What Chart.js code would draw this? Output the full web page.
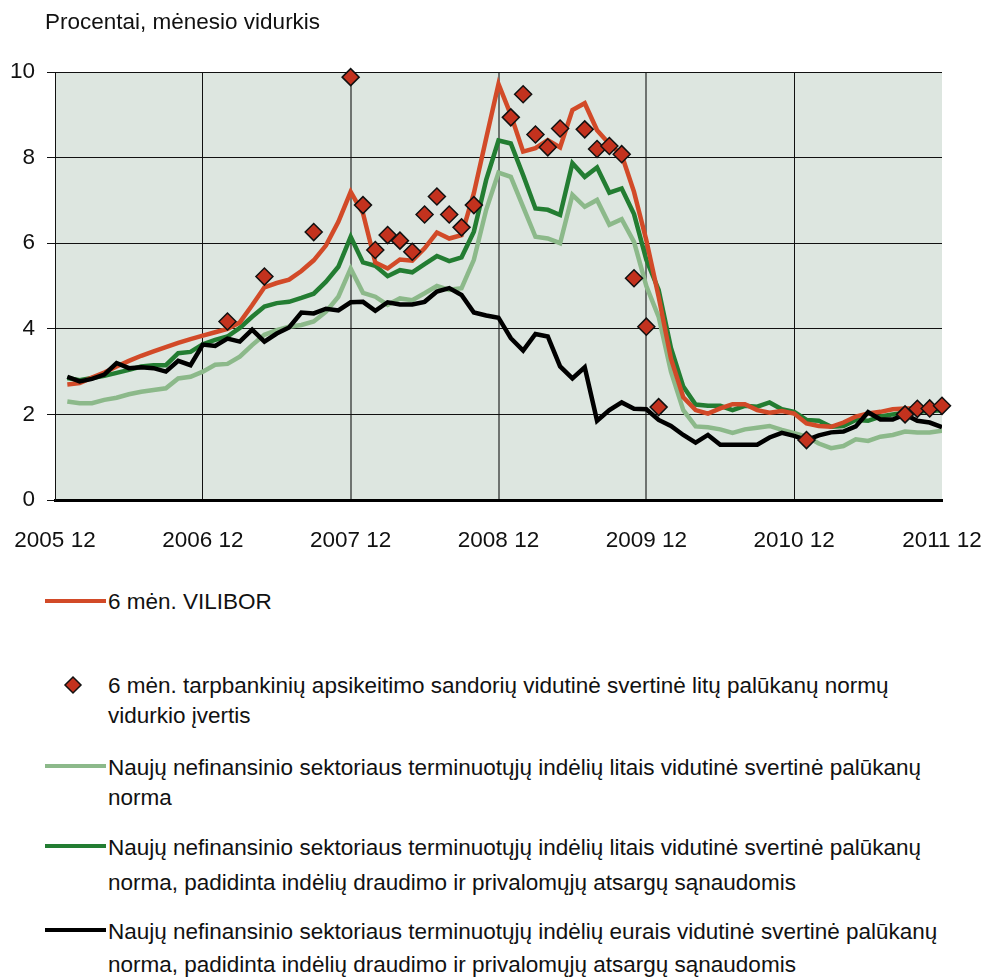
<!DOCTYPE html>
<html><head><meta charset="utf-8">
<script src="https://cdn.jsdelivr.net/npm/chart.js@4/dist/chart.umd.min.js"></script>
<style>
body{margin:0;background:#fff;font-family:"Liberation Sans",Arial,sans-serif;color:#111;}
#wrap{position:relative;width:982px;height:978px;overflow:hidden;}
#c{position:absolute;left:0;top:0;}
.t{position:absolute;font-size:22.5px;line-height:26px;white-space:nowrap;}
.ln{position:absolute;left:45px;width:61px;height:4px;}
</style></head>
<body>
<div id="wrap">
<canvas id="c" width="982" height="575" style="width:982px;height:575px"></canvas>
<div class="t" style="left:45px;top:9px">Procentai, mėnesio vidurkis</div>

<div class="ln" style="top:599px;background:#D24A28"></div>
<div class="t" style="left:108px;top:589px">6 mėn. VILIBOR</div>

<svg style="position:absolute;left:63px;top:675px" width="20" height="20"><polygon points="10,2 18,10 10,18 2,10" fill="#C3321E" stroke="#111" stroke-width="1.5"/></svg>
<div class="t" style="left:108px;top:673px">6 mėn. tarpbankinių apsikeitimo sandorių vidutinė svertinė litų palūkanų normų</div>
<div class="t" style="left:108px;top:703px">vidurkio įvertis</div>

<div class="ln" style="top:764px;background:#8CB98A"></div>
<div class="t" style="left:108px;top:755px">Naujų nefinansinio sektoriaus terminuotųjų indėlių litais vidutinė svertinė palūkanų</div>
<div class="t" style="left:108px;top:785px">norma</div>

<div class="ln" style="top:844px;background:#237D32"></div>
<div class="t" style="left:108px;top:835px">Naujų nefinansinio sektoriaus terminuotųjų indėlių litais vidutinė svertinė palūkanų</div>
<div class="t" style="left:108px;top:870px">norma, padidinta indėlių draudimo ir privalomųjų atsargų sąnaudomis</div>

<div class="ln" style="top:928px;background:#000"></div>
<div class="t" style="left:108px;top:919px">Naujų nefinansinio sektoriaus terminuotųjų indėlių eurais vidutinė svertinė palūkanų</div>
<div class="t" style="left:108px;top:952px">norma, padidinta indėlių draudimo ir privalomųjų atsargų sąnaudomis</div>
</div>
<script>
const categories = [
 '2005 12',
 '2006 01','2006 02','2006 03','2006 04','2006 05','2006 06','2006 07','2006 08','2006 09','2006 10','2006 11','2006 12',
 '2007 01','2007 02','2007 03','2007 04','2007 05','2007 06','2007 07','2007 08','2007 09','2007 10','2007 11','2007 12',
 '2008 01','2008 02','2008 03','2008 04','2008 05','2008 06','2008 07','2008 08','2008 09','2008 10','2008 11','2008 12',
 '2009 01','2009 02','2009 03','2009 04','2009 05','2009 06','2009 07','2009 08','2009 09','2009 10','2009 11','2009 12',
 '2010 01','2010 02','2010 03','2010 04','2010 05','2010 06','2010 07','2010 08','2010 09','2010 10','2010 11','2010 12',
 '2011 01','2011 02','2011 03','2011 04','2011 05','2011 06','2011 07','2011 08','2011 09','2011 10','2011 11','2011 12',
 '2012 01'
];
const tickLabels = ['2005 12','2006 12','2007 12','2008 12','2009 12','2010 12','2011 12'];

const vilibor = [null,
 2.70,2.73,2.86,2.98,3.12,3.25,3.37,3.47,3.57,3.67,3.76,3.84,
 3.92,4.00,4.15,4.55,4.97,5.07,5.15,5.35,5.60,5.95,6.50,7.20,
 6.70,5.55,5.41,5.62,5.59,5.88,6.25,6.11,6.19,7.17,8.45,9.72,
 9.00,8.14,8.22,8.41,8.24,9.11,9.27,8.64,8.32,8.06,7.20,6.07,
 4.75,3.30,2.40,2.10,2.02,2.14,2.24,2.24,2.10,2.04,2.08,2.02,
 1.79,1.73,1.71,1.81,1.95,2.02,2.06,2.12,2.14,2.14,2.16,2.14,
 1.94];

const swapEstimate = [null,
 null,null,null,null,null,null,null,null,null,null,null,null,
 null,4.17,null,null,5.22,null,null,null,6.26,null,null,9.88,
 6.89,5.84,6.19,6.06,5.80,6.67,7.09,6.67,6.37,6.89,null,null,
 8.94,9.48,8.54,8.24,8.68,null,8.66,8.20,8.27,8.08,5.18,4.05,
 2.17,null,null,null,null,null,null,null,null,null,null,null,
 1.40,null,null,null,null,null,null,null,2.00,2.13,2.14,2.20,
 null];

const depositsLtl = [null,
 2.30,2.26,2.26,2.34,2.39,2.47,2.53,2.57,2.61,2.84,2.88,3.00,
 3.16,3.18,3.35,3.62,3.86,3.97,4.05,4.09,4.17,4.40,4.75,5.41,
 4.84,4.75,4.56,4.71,4.67,4.83,5.00,4.91,4.95,5.61,6.78,7.65,
 7.55,6.85,6.15,6.11,6.00,7.13,6.85,7.01,6.43,6.56,6.03,5.00,
 4.28,3.00,2.10,1.72,1.70,1.65,1.57,1.65,1.69,1.73,1.64,1.56,
 1.48,1.32,1.21,1.26,1.42,1.38,1.48,1.52,1.60,1.58,1.58,1.62,
 null];

const depositsLtlAdj = [null,
 2.85,2.80,2.85,2.90,2.97,3.04,3.12,3.15,3.15,3.43,3.46,3.64,
 3.74,3.82,4.02,4.28,4.52,4.60,4.63,4.72,4.82,5.10,5.45,6.15,
 5.55,5.47,5.23,5.37,5.32,5.51,5.70,5.58,5.67,6.27,7.48,8.40,
 8.33,7.59,6.81,6.78,6.66,7.87,7.55,7.77,7.18,7.28,6.68,5.61,
 4.91,3.55,2.65,2.23,2.20,2.20,2.10,2.20,2.18,2.28,2.12,2.06,
 1.87,1.85,1.71,1.73,1.87,1.85,1.95,2.00,2.04,2.06,2.08,2.10,
 null];

const depositsEurAdj = [null,
 2.88,2.77,2.83,2.93,3.20,3.08,3.10,3.08,3.00,3.25,3.15,3.63,
 3.60,3.77,3.70,3.98,3.70,3.89,4.03,4.38,4.36,4.47,4.43,4.62,
 4.63,4.42,4.62,4.57,4.57,4.63,4.87,4.95,4.79,4.38,4.31,4.26,
 3.78,3.49,3.88,3.82,3.12,2.84,3.10,1.85,2.10,2.28,2.13,2.12,
 1.87,1.73,1.52,1.34,1.52,1.29,1.29,1.29,1.29,1.46,1.57,1.50,
 1.40,1.51,1.58,1.60,1.72,2.05,1.88,1.88,2.00,1.85,1.81,1.70,
 null];

const FONT = {family:'"Liberation Sans", Arial, sans-serif', size:22.5};
const XFONT = {family:'"Liberation Sans", Arial, sans-serif', size:22.5};

const bgPlugin = {
  id:'bg',
  beforeDraw(chart){
    const {ctx, chartArea:a} = chart;
    ctx.save();
    ctx.fillStyle = '#DDE6E0';
    ctx.fillRect(a.left, a.top, a.right - a.left, a.bottom - a.top);
    ctx.restore();
  }
};

new Chart(document.getElementById('c'), {
  type:'line',
  data:{
    labels: categories,
    datasets:[
      {label:'swap', data: swapEstimate, showLine:false, pointStyle:'rectRot', pointRadius:8.5,
       pointBackgroundColor:'#C3321E', pointBorderColor:'#111', pointBorderWidth:1.5, order:0, clip:false},
      {label:'eur', data: depositsEurAdj, borderColor:'#000', borderWidth:4.5, pointRadius:0, order:1, tension:0},
      {label:'vilibor', data: vilibor, borderColor:'#D24A28', borderWidth:4.5, pointRadius:0, order:2, clip:false, tension:0},
      {label:'ltlAdj', data: depositsLtlAdj, borderColor:'#237D32', borderWidth:4.5, pointRadius:0, order:3, tension:0},
      {label:'ltl', data: depositsLtl, borderColor:'#8CB98A', borderWidth:4.5, pointRadius:0, order:4, tension:0}
    ]
  },
  options:{
    responsive:false, animation:false, spanGaps:false,
    layout:{padding:{left:0, right:40, top:72, bottom:0}},
    plugins:{legend:{display:false}, tooltip:{enabled:false}, title:{display:false}},
    elements:{line:{borderJoinStyle:'miter', borderCapStyle:'butt'}},
    scales:{
      x:{
        type:'category', max:'2011 12', offset:false,
        afterFit(s){ s.height = 75; s.paddingLeft = 0; s.paddingRight = 0; },
        grid:{
          drawTicks:false,
          color(ctx){ const i = ctx.index; if (i===0||i===72) return 'rgba(0,0,0,0)'; if (i%12!==0) return 'rgba(0,0,0,0)'; return (i===24||i===36||i===48) ? '#6E7370' : '#111'; },
          lineWidth(ctx){ const i = ctx.index; return (i===24||i===36||i===48) ? 2 : 1; }
        },
        border:{color:'#000', width:3},
        ticks:{autoSkip:false, maxRotation:0, minRotation:0, padding:27, font:XFONT, color:'#111',
          callback(v, i){ const l = categories[i]; return tickLabels.includes(l) ? l : ''; }}
      },
      y:{
        min:0, max:10,
        afterFit(s){ s.width = 55; s.paddingTop = 0; s.paddingBottom = 0; },
        grid:{color:'#111', lineWidth:1, tickLength:8, tickColor:'#111'},
        border:{color:'#111', width:1},
        ticks:{stepSize:2, padding:12, font:FONT, color:'#111'}
      }
    }
  },
  plugins:[bgPlugin]
});
</script>
</body></html>
